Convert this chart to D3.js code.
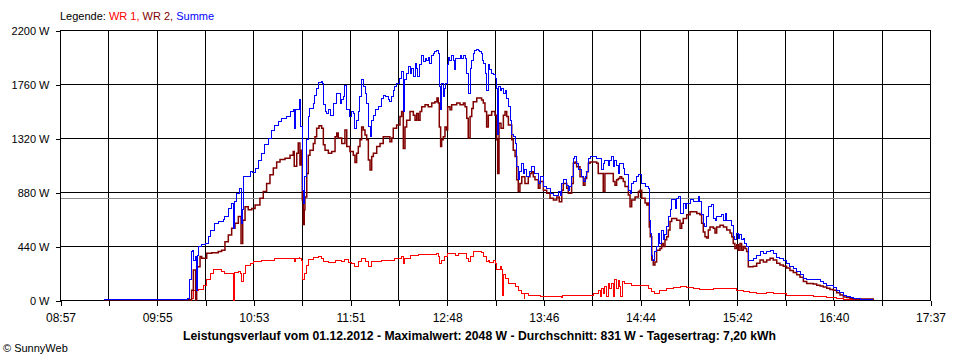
<!DOCTYPE html>
<html><head><meta charset="utf-8">
<script src="https://cdn.jsdelivr.net/npm/d3@7"></script>
<style>
html,body{margin:0;padding:0;background:#fff;}
svg{display:block;font-family:"Liberation Sans",Arial,sans-serif;}
</style></head><body>
<svg id="chart" width="960" height="360"></svg>
<script>
// ---------- DATA ----------
const xTickLabels = ["08:57","09:55","10:53","11:51","12:48","13:46","14:44","15:42","16:40","17:37"];
const yTickValues = [0, 440, 880, 1320, 1760, 2200];
const timeStartMin = 537;   // 08:57
const timeEndMin = 1057;    // 17:37
const averageW = 831;
const seriesNames = ["WR 1", "WR 2", "Summe"];
const titleText = "Leistungsverlauf vom 01.12.2012 - Maximalwert: 2048 W - Durchschnitt: 831 W - Tagesertrag: 7,20 kWh";
const legendLabel = "Legende: ";
const creditText = "\u00A9 SunnyWeb";

// [minutes since midnight, W]
const wr1 = [[615.0,0],[615.7,15],[616.7,80],[619.7,85],[622.7,120],[624.7,165],[626.7,220],[628.6,245],[630.7,250],[633.6,230],[635.6,220],[638.6,220],[640.6,220],[640.8,0],[641.0,225],[643.6,230],[644.6,220],[645.6,150],[646.6,220],[647.6,285],[650.6,300],[652.5,310],[657.6,325],[665.5,335],[675.5,340],[677.0,310],[677.9,340],[679.9,350],[680.4,340],[681.5,325],[681.8,170],[683.0,170],[683.4,220],[684.5,285],[685.4,330],[688.4,350],[691.4,355],[693.4,340],[694.4,310],[697.4,305],[701.4,325],[705.4,310],[707.3,330],[709.3,305],[711.4,300],[713.3,275],[715.3,310],[717.3,340],[719.3,310],[721.3,270],[723.3,310],[729.3,325],[737.2,340],[741.2,355],[742.2,300],[743.2,340],[746.2,365],[751.2,370],[761.1,370],[762.2,380],[763.1,355],[764.1,300],[765.1,325],[767.1,355],[768.5,380],[773.1,360],[775.1,380],[779.1,380],[780.1,340],[781.0,310],[782.1,355],[784.0,395],[789.0,385],[790.0,355],[792.0,310],[793.0,325],[794.0,305],[796.0,320],[797.4,300],[798.0,245],[800.0,270],[800.6,245],[801.4,40],[802.0,205],[803.0,175],[805.0,135],[809.0,110],[810.9,80],[813.0,55],[814.5,15],[814.9,50],[816.9,40],[820.9,38],[823.9,32],[836.9,20],[837.2,38],[854.8,38],[855.8,50],[857.8,55],[858.7,80],[859.8,25],[860.8,95],[861.7,55],[862.7,110],[863.8,25],[864.7,135],[865.7,95],[866.7,135],[867.7,25],[868.7,165],[869.7,95],[870.7,155],[871.7,110],[872.3,25],[873.1,150],[874.7,135],[878.7,120],[887.7,115],[888.6,95],[890.7,70],[892.6,55],[895.6,80],[899.6,95],[903.6,105],[907.6,110],[911.6,105],[915.5,95],[919.5,85],[927.5,90],[935.5,90],[941.5,80],[943.4,75],[945.4,72],[949.4,60],[953.4,55],[959.4,60],[963.3,55],[967.3,50],[971.3,40],[975.3,35],[979.3,33],[987.2,27],[995.3,22],[1001.2,14],[1005.2,6],[1009.2,2],[1023.1,0]];

const wr2 = [[563.3,3],[615.0,3],[615.7,80],[616.7,245],[617.7,245],[618.1,0],[618.7,270],[620.7,355],[621.7,340],[624.7,380],[627.7,385],[631.6,395],[633.6,405],[635.6,475],[637.6,530],[639.6,585],[641.6,625],[643.6,680],[645.2,460],[646.2,650],[647.6,760],[649.5,735],[651.6,745],[653.6,775],[656.5,830],[658.5,885],[660.5,950],[662.5,1020],[664.5,1075],[666.5,1125],[668.5,1145],[671.5,1155],[674.5,1180],[676.4,1210],[677.0,1090],[678.5,1195],[679.4,1280],[680.4,1100],[681.0,1220],[681.8,815],[682.4,615],[683.0,735],[683.4,840],[684.5,1030],[685.4,1180],[686.4,1220],[688.4,1275],[689.4,1330],[690.4,1400],[691.8,1420],[693.4,1400],[694.4,1265],[695.4,1220],[697.4,1195],[699.4,1210],[701.4,1330],[702.4,1360],[703.3,1320],[705.4,1275],[707.3,1385],[708.4,1250],[710.3,1210],[712.3,1180],[713.3,1120],[714.3,1195],[715.3,1250],[716.3,1305],[717.3,1410],[718.3,1385],[719.3,1345],[720.3,1305],[721.3,1140],[722.3,1060],[723.3,1170],[724.3,1195],[726.3,1250],[728.3,1275],[730.2,1330],[732.3,1330],[734.2,1290],[735.3,1320],[736.2,1400],[738.2,1425],[740.2,1495],[741.2,1535],[742.2,1235],[743.2,1410],[744.2,1465],[746.2,1535],[748.2,1505],[749.2,1465],[750.2,1520],[751.2,1465],[752.2,1535],[753.2,1575],[755.2,1590],[757.1,1575],[759.2,1605],[761.1,1615],[762.3,1645],[763.1,1605],[763.7,1410],[764.5,1250],[765.1,1305],[766.1,1330],[767.1,1410],[768.1,1385],[768.7,1575],[770.1,1550],[771.1,1590],[774.1,1605],[776.1,1590],[778.1,1605],[779.1,1575],[780.1,1480],[781.0,1320],[782.1,1495],[783.1,1560],[784.0,1615],[786.1,1645],[788.0,1645],[789.0,1630],[790.0,1605],[791.0,1535],[792.0,1410],[793.0,1505],[795.0,1535],[797.0,1505],[798.0,1305],[798.6,1030],[799.4,1440],[800.6,1400],[802.0,1505],[803.0,1535],[804.0,1495],[805.0,1425],[807.0,1305],[807.9,1220],[809.0,1170],[810.0,980],[810.9,885],[811.9,950],[813.0,1005],[814.9,950],[816.9,1005],[817.9,1030],[818.9,1045],[819.9,1005],[820.9,980],[822.9,910],[823.9,965],[825.9,895],[827.9,870],[829.9,830],[831.9,815],[833.9,840],[835.4,800],[836.9,895],[837.8,950],[839.9,910],[840.8,870],[842.8,950],[843.8,1115],[844.8,1125],[845.8,1085],[847.8,1005],[849.8,935],[850.8,990],[851.8,1045],[852.8,1115],[853.8,1125],[857.8,1115],[858.7,1030],[860.8,1030],[861.7,885],[862.7,1030],[866.7,1030],[867.7,965],[868.7,935],[869.7,980],[870.7,990],[871.7,1005],[872.7,990],[873.7,965],[874.7,925],[876.7,855],[877.7,760],[878.7,815],[880.7,840],[882.7,885],[883.7,895],[884.7,830],[886.7,790],[887.7,775],[888.6,790],[889.2,595],[889.8,515],[890.7,325],[891.6,285],[892.6,310],[893.6,405],[895.6,420],[896.6,460],[897.6,435],[898.6,490],[899.6,515],[900.6,570],[901.6,640],[902.6,665],[904.6,665],[905.6,650],[907.6,585],[908.6,625],[909.5,665],[911.6,695],[913.6,720],[917.6,705],[919.5,695],[920.5,625],[921.5,555],[922.5,515],[923.5,505],[924.5,570],[925.5,595],[927.5,585],[928.5,545],[929.5,595],[931.5,610],[933.5,595],[935.5,570],[937.5,545],[938.5,515],[939.4,460],[940.4,420],[941.5,450],[942.4,405],[943.4,460],[944.4,405],[945.4,435],[946.4,420],[947.4,395],[948.4,270],[951.4,275],[953.4,300],[955.4,325],[957.4,310],[959.4,325],[961.4,340],[963.3,325],[965.4,300],[967.3,285],[969.3,275],[971.3,260],[973.3,240],[975.3,225],[977.3,205],[979.3,185],[981.3,150],[983.3,135],[987.2,130],[989.3,120],[991.3,115],[993.2,105],[995.3,95],[997.2,85],[999.2,80],[1001.2,60],[1003.2,40],[1005.2,25],[1007.2,20],[1009.2,15],[1011.2,8],[1023.1,5]];

const summe = [[563.3,5],[612.9,5],[613.3,10],[614.5,165],[615.7,395],[616.1,400],[616.9,325],[617.7,355],[618.3,80],[618.9,360],[619.7,435],[621.7,450],[624.1,460],[625.6,515],[626.7,570],[629.6,625],[631.6,640],[634.6,660],[635.6,680],[637.6,745],[639.6,790],[640.6,585],[641.2,800],[642.6,870],[644.2,910],[645.2,625],[646.0,735],[646.6,1005],[648.6,1010],[650.6,1045],[651.9,1035],[653.6,1075],[655.5,1140],[657.6,1195],[659.5,1265],[661.5,1320],[663.5,1385],[665.5,1425],[667.5,1455],[669.5,1480],[672.5,1495],[674.5,1535],[676.4,1550],[677.0,1400],[677.9,1550],[679.9,1630],[681.0,1410],[681.8,895],[682.4,790],[683.0,845],[683.4,1005],[684.5,1305],[685.4,1495],[686.4,1560],[688.4,1605],[689.4,1670],[690.4,1725],[691.8,1770],[693.0,1780],[693.8,1765],[694.4,1590],[695.4,1535],[696.4,1520],[697.4,1550],[698.4,1505],[700.4,1605],[702.4,1685],[704.4,1605],[705.4,1630],[706.3,1655],[707.3,1750],[708.4,1550],[710.3,1495],[711.4,1535],[712.3,1520],[713.3,1400],[714.3,1465],[715.3,1535],[716.3,1655],[717.3,1795],[718.3,1740],[719.3,1685],[720.3,1605],[721.3,1410],[722.3,1330],[723.3,1465],[724.3,1505],[725.3,1550],[727.3,1575],[729.3,1645],[730.2,1670],[731.3,1655],[733.2,1630],[734.2,1615],[735.3,1655],[736.2,1710],[737.2,1740],[738.2,1765],[740.2,1805],[741.2,1860],[742.2,1535],[743.2,1795],[744.2,1845],[745.2,1900],[746.2,1845],[747.2,1890],[748.2,1820],[749.2,1930],[750.2,1890],[750.8,1820],[751.6,1915],[752.8,1995],[754.1,1940],[755.2,1970],[756.2,1955],[757.1,1980],[758.1,1930],[759.2,1995],[760.1,2010],[761.1,2025],[762.3,2030],[763.1,2010],[763.7,1740],[764.3,1550],[765.1,1765],[766.1,1655],[767.1,1725],[767.7,1765],[768.5,1915],[769.1,1980],[770.1,1955],[771.1,1995],[772.1,1955],[772.7,1875],[773.5,1970],[776.1,1995],[777.1,1970],[778.1,1990],[779.1,1970],[780.1,1845],[781.0,1685],[782.1,1890],[783.1,1955],[784.0,2010],[785.0,2030],[786.1,2045],[787.0,2035],[788.0,2025],[789.0,2010],[789.6,1955],[790.4,1930],[791.4,1845],[792.0,1710],[793.0,1915],[794.0,1875],[795.0,1845],[796.0,1835],[797.0,1805],[797.6,1725],[798.2,1345],[799.0,1740],[800.0,1710],[801.0,1725],[802.0,1685],[803.0,1710],[804.0,1645],[805.0,1575],[806.0,1465],[807.0,1345],[807.9,1330],[809.0,1275],[810.0,1085],[810.9,980],[811.9,1045],[813.0,1115],[813.9,1030],[814.9,1060],[815.9,1005],[817.9,1045],[818.9,1085],[820.9,1030],[822.9,950],[823.9,1005],[825.9,925],[827.9,910],[829.9,870],[831.9,855],[834.8,885],[835.9,855],[836.9,950],[837.8,980],[839.9,935],[840.8,895],[841.8,925],[842.8,1005],[843.8,1155],[844.8,1170],[845.8,1115],[846.8,1060],[848.8,1005],[849.8,965],[850.8,1005],[851.8,1045],[852.8,1155],[853.8,1170],[857.8,1155],[858.7,1155],[860.8,1060],[861.7,1115],[862.7,1140],[864.7,1100],[865.7,1140],[866.7,1170],[867.7,1085],[868.7,1140],[869.7,1100],[870.7,1030],[871.7,1115],[873.7,1075],[874.7,1020],[876.7,895],[877.7,870],[878.7,950],[879.7,965],[881.7,1005],[882.7,1020],[884.7,950],[886.7,925],[888.6,910],[889.2,650],[889.8,545],[890.4,365],[891.0,325],[892.6,395],[893.6,435],[894.6,545],[895.6,460],[896.6,570],[897.6,490],[898.6,530],[899.6,595],[900.6,680],[901.6,735],[902.6,815],[904.6,745],[905.6,830],[906.6,840],[907.6,705],[909.5,790],[910.6,745],[911.6,790],[913.6,815],[915.5,800],[918.5,840],[919.5,800],[920.5,695],[921.5,625],[922.5,595],[923.5,680],[924.5,760],[926.5,775],[927.5,665],[928.5,650],[929.5,680],[932.5,695],[933.5,650],[934.5,705],[935.5,650],[937.5,650],[938.5,610],[939.4,515],[940.4,490],[941.5,545],[942.4,505],[943.4,530],[944.4,490],[945.4,505],[946.4,460],[947.4,435],[948.4,325],[951.4,340],[953.4,365],[955.4,395],[957.4,380],[959.4,395],[961.4,405],[963.3,380],[965.4,350],[967.3,340],[969.3,325],[971.3,300],[973.3,275],[975.3,260],[977.3,230],[979.3,205],[981.3,175],[983.3,170],[987.2,165],[991.3,150],[993.2,135],[995.3,120],[997.2,115],[999.2,105],[1001.2,80],[1003.2,60],[1005.2,40],[1007.2,25],[1009.2,20],[1011.2,15],[1015.2,8],[1023.1,5]];

// ---------- DRAWING ----------
const colors = ["#ff0000", "#800000", "#0000ff"];
const widths = [1, 1.5, 1];
const plot = {left: 60, right: 930, top: 30, bottom: 300};

const svg = d3.select("#chart");
const x = d3.scaleLinear().domain([timeStartMin, timeEndMin]).range([plot.left, plot.right]);
const y = d3.scaleLinear().domain([0, 2200]).range([plot.bottom, plot.top]);

const nGrid = (xTickLabels.length - 1) * 2;
const gridTimes = d3.range(nGrid + 1).map(i => timeStartMin + i * (timeEndMin - timeStartMin) / nGrid);

// grid
const grid = svg.append("g").attr("shape-rendering", "crispEdges");
grid.selectAll("line.v").data(gridTimes).join("line")
  .attr("x1", d => Math.round(x(d)) + 0.5).attr("x2", d => Math.round(x(d)) + 0.5)
  .attr("y1", plot.top).attr("y2", plot.bottom)
  .attr("stroke", "#000").attr("stroke-width", 1);
grid.selectAll("line.h").data(yTickValues).join("line")
  .attr("x1", plot.left).attr("x2", plot.right + 1)
  .attr("y1", d => Math.round(y(d)) + 0.5).attr("y2", d => Math.round(y(d)) + 0.5)
  .attr("stroke", "#000").attr("stroke-width", 1);

// average line
svg.append("line")
  .attr("shape-rendering", "crispEdges")
  .attr("x1", plot.left + 1).attr("x2", plot.right)
  .attr("y1", Math.round(y(averageW)) + 0.5).attr("y2", Math.round(y(averageW)) + 0.5)
  .attr("stroke", "#8c8c8c").attr("stroke-width", 1);

// axes
const xAxis = svg.append("g").attr("transform", `translate(0.5,${plot.bottom + 0.5})`)
  .attr("shape-rendering", "crispEdges")
  .call(d3.axisBottom(x).tickValues(gridTimes).tickSize(5)
    .tickFormat((d, i) => i % 2 === 0 ? xTickLabels[i / 2] : ""));
xAxis.select(".domain").remove();
xAxis.selectAll(".tick line").attr("stroke", "#000");
xAxis.selectAll(".tick text").attr("y", 21).attr("dy", 0)
  .attr("font-size", 12).attr("font-family", "Liberation Sans, Arial, sans-serif").attr("fill", "#000");

const yAxis = svg.append("g").attr("transform", `translate(${plot.left + 0.5},0.5)`)
  .attr("shape-rendering", "crispEdges")
  .call(d3.axisLeft(y).tickValues(yTickValues).tickSize(5).tickPadding(6)
    .tickFormat(d => d + " W"));
yAxis.select(".domain").remove();
yAxis.selectAll(".tick line").attr("stroke", "#000");
yAxis.selectAll(".tick text").attr("font-size", 11)
  .attr("font-family", "Liberation Sans, Arial, sans-serif").attr("fill", "#000");

// series
const line = d3.line().x(d => x(d[0])).y(d => y(d[1])).curve(d3.curveStepAfter);
[wr1, wr2, summe].forEach((s, i) => {
  svg.append("path").datum(s)
    .attr("d", line)
    .attr("fill", "none")
    .attr("stroke", colors[i])
    .attr("stroke-width", widths[i])
    .attr("stroke-linejoin", "miter")
    .attr("shape-rendering", i === 1 ? "auto" : "crispEdges");
});

// legend
const leg = svg.append("text").attr("x", 60).attr("y", 20).attr("font-size", 11);
leg.append("tspan").text(legendLabel).attr("fill", "#000");
seriesNames.forEach((n, i) => {
  leg.append("tspan").text(n + (i < seriesNames.length - 1 ? ", " : "")).attr("fill", colors[i]);
});

// title
svg.append("text").attr("x", 479.5).attr("y", 340)
  .attr("text-anchor", "middle").attr("font-size", 12).attr("font-weight", "bold")
  .attr("textLength", 593).attr("lengthAdjust", "spacingAndGlyphs")
  .text(titleText);

// credit
svg.append("text").attr("x", 3).attr("y", 352).attr("font-size", 11).text(creditText);
</script>
</body></html>
